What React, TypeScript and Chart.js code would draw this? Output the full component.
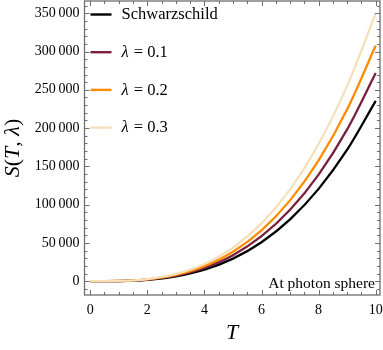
import React, { useEffect, useRef } from "react";
import { Chart, registerables } from "chart.js";

Chart.register(...registerables);

const T_VALUES = [0, 1, 2, 3, 4, 5, 6, 7, 8, 9, 10];
const S_SCHWARZSCHILD = [0, 240, 1900, 6400, 15100, 29500, 50900, 80800, 120600, 171800, 235600];
const S_LAMBDA_01 = [0, 270, 2200, 7300, 17400, 34000, 58800, 93300, 139300, 198300, 272000];
const S_LAMBDA_02 = [0, 310, 2500, 8300, 19700, 38500, 66500, 105600, 157700, 224500, 308000];
const S_LAMBDA_03 = [0, 350, 2800, 9450, 22400, 43750, 75600, 120000, 179200, 255100, 350000];

const SERIES_LABELS = ["Schwarzschild", "0.1", "0.2", "0.3"];
const SERIES_COLORS = ["#000000", "#7a1f3d", "#ff8c00", "#f6e0bb"];

const X_MAJOR = [0, 2, 4, 6, 8, 10];
const Y_MAJOR = [0, 50000, 100000, 150000, 200000, 250000, 300000, 350000];
const X_MINOR_STEP = 0.5;
const Y_MINOR_STEP = 10000;

const SERIF = "'Liberation Serif', 'DejaVu Serif', serif";
const FRAME = "#6e6e6e";

function fmt(v: number): string {
  const s = String(Math.round(v));
  if (s.length <= 4) return s;
  return s.slice(0, s.length - 3) + "\u2009" + s.slice(s.length - 3);
}

const framePlugin = {
  id: "mmaFrame",
  afterDatasetsDraw(chart: any) {
    const { ctx, chartArea: a, scales } = chart;
    const xs = scales.x;
    const ys = scales.y;
    ctx.save();
    ctx.strokeStyle = FRAME;
    ctx.lineWidth = 1;
    const major = 5;
    const minor = 3;
    const xmin = xs.min, xmax = xs.max, ymin = ys.min, ymax = ys.max;
    for (let v = Math.ceil(xmin / X_MINOR_STEP) * X_MINOR_STEP; v <= xmax + 1e-9; v += X_MINOR_STEP) {
      const px = Math.round(xs.getPixelForValue(v)) + 0.5;
      const isMajor = X_MAJOR.some((m) => Math.abs(m - v) < 1e-6);
      const len = isMajor ? major : minor;
      ctx.beginPath();
      ctx.moveTo(px, a.bottom);
      ctx.lineTo(px, a.bottom - len);
      ctx.moveTo(px, a.top);
      ctx.lineTo(px, a.top + len);
      ctx.stroke();
    }
    for (let v = Math.ceil(ymin / Y_MINOR_STEP) * Y_MINOR_STEP; v <= ymax + 1e-9; v += Y_MINOR_STEP) {
      const py = Math.round(ys.getPixelForValue(v)) + 0.5;
      const isMajor = Y_MAJOR.some((m) => Math.abs(m - v) < 1e-6);
      const len = isMajor ? major : minor;
      ctx.beginPath();
      ctx.moveTo(a.left, py);
      ctx.lineTo(a.left + len, py);
      ctx.moveTo(a.right, py);
      ctx.lineTo(a.right - len, py);
      ctx.stroke();
    }
    ctx.lineWidth = 1.3;
    ctx.strokeRect(a.left, a.top, a.right - a.left, a.bottom - a.top);

    // legend
    const lx = a.left + 6;
    let ly = a.top + 13.5;
    const gap = 37.7;
    SERIES_LABELS.forEach((lab, i) => {
      ctx.strokeStyle = SERIES_COLORS[i];
      ctx.lineWidth = 2.4;
      ctx.beginPath();
      ctx.moveTo(lx, ly);
      ctx.lineTo(lx + 21, ly);
      ctx.stroke();
      ctx.fillStyle = "#000";
      ctx.textBaseline = "middle";
      ctx.textAlign = "left";
      const tx = lx + 31;
      if (i === 0) {
        ctx.font = `16.5px ${SERIF}`;
        ctx.fillText(lab, tx, ly + 0.5);
      } else {
        ctx.font = `italic 16.5px ${SERIF}`;
        ctx.fillText("\u03bb", tx, ly + 0.5);
        const w = ctx.measureText("\u03bb").width;
        ctx.font = `16.5px ${SERIF}`;
        ctx.fillText(" = " + lab, tx + w + 1, ly + 0.5);
      }
      ly += gap;
    });

    ctx.font = `15.5px ${SERIF}`;
    ctx.textAlign = "right";
    ctx.textBaseline = "alphabetic";
    ctx.fillStyle = "#000";
    ctx.fillText("At photon sphere", a.right - 5, a.bottom - 7.5);

    ctx.font = `italic 22px ${SERIF}`;
    ctx.textAlign = "center";
    ctx.textBaseline = "middle";
    ctx.fillText("T", 232, 333);

    ctx.save();
    ctx.translate(13, (a.top + a.bottom) / 2);
    ctx.rotate(-Math.PI / 2);
    const parts: [string, boolean][] = [["S", true], ["(", false], ["T", true], [", ", false], ["\u03bb", true], [")", false]];
    let total = 0;
    const widths = parts.map(([t, it]) => {
      ctx.font = `${it ? "italic " : ""}22px ${SERIF}`;
      const w = ctx.measureText(t).width;
      total += w;
      return w;
    });
    let cx = -total / 2;
    ctx.textAlign = "left";
    parts.forEach(([t, it], i) => {
      ctx.font = `${it ? "italic " : ""}22px ${SERIF}`;
      ctx.fillText(t, cx, 0);
      cx += widths[i];
    });
    ctx.restore();
    ctx.restore();
  },
};

export default function App() {
  const ref = useRef<HTMLCanvasElement | null>(null);
  useEffect(() => {
    if (!ref.current) return;
    const mk = (vals: number[]) => T_VALUES.map((t, i) => ({ x: t, y: vals[i] }));
    const all = [S_SCHWARZSCHILD, S_LAMBDA_01, S_LAMBDA_02, S_LAMBDA_03];
    const chart = new Chart(ref.current, {
      type: "line",
      data: {
        datasets: all.map((vals, i) => ({
          label: SERIES_LABELS[i],
          data: mk(vals),
          borderColor: SERIES_COLORS[i],
          backgroundColor: SERIES_COLORS[i],
          borderWidth: 2.3,
          pointRadius: 0,
          cubicInterpolationMode: "monotone" as const,
          fill: false,
          order: 3 - i,
        })),
      },
      options: {
        animation: false,
        responsive: false,
        maintainAspectRatio: false,
        layout: { padding: { top: 1, right: 3, left: 0, bottom: 0 } },
        plugins: { legend: { display: false }, tooltip: { enabled: false } },
        scales: {
          x: {
            type: "linear",
            min: -0.2,
            max: 10.15,
            afterFit: (s: any) => {
              s.height = 55;
              s.paddingLeft = 0;
              s.paddingRight = 0;
            },
            afterBuildTicks: (s: any) => {
              s.ticks = X_MAJOR.map((v) => ({ value: v }));
            },
            grid: { display: false, drawTicks: false },
            border: { display: false },
            ticks: {
              padding: 7,
              color: "#000",
              font: { family: SERIF, size: 14 },
              maxRotation: 0,
              callback: (v: any) => String(v),
            },
          },
          y: {
            type: "linear",
            min: -18000,
            max: 366000,
            afterFit: (s: any) => {
              s.width = 84.5;
              s.paddingTop = 0;
              s.paddingBottom = 0;
            },
            afterBuildTicks: (s: any) => {
              s.ticks = Y_MAJOR.map((v) => ({ value: v }));
            },
            grid: { display: false, drawTicks: false },
            border: { display: false },
            ticks: {
              padding: 5,
              color: "#000",
              font: { family: SERIF, size: 14 },
              callback: (v: any) => fmt(Number(v)),
            },
          },
        },
      },
      plugins: [framePlugin],
    });
    return () => chart.destroy();
  }, []);
  return (
    <div style={{ position: "fixed", left: 0, top: 0, width: 383, height: 350, background: "#fff" }}>
      <canvas ref={ref} width={383} height={350} style={{ display: "block", width: 383, height: 350 }} />
    </div>
  );
}
